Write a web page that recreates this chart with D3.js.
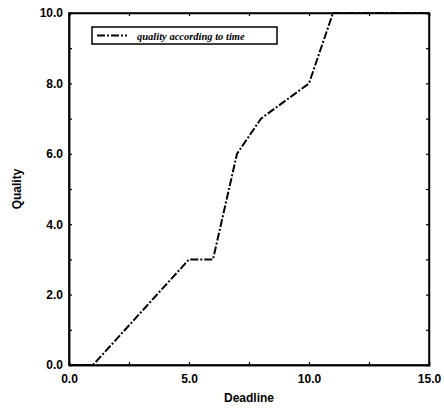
<!DOCTYPE html>
<html>
<head>
<meta charset="utf-8">
<script src="https://cdn.jsdelivr.net/npm/d3@7"></script>
<style>
  body { margin: 0; background: #fff; }
  .tick text { font-family: "Liberation Sans", Arial, sans-serif; font-weight: bold; font-size: 12px; fill: #000; }
</style>
</head>
<body>
<div id="chart"></div>
<script>
// data
var deadline = [0, 1, 5, 6, 7, 8, 10, 11, 15]
var quality = [0, 0, 3, 3, 6, 7, 8, 10, 10]
var xTicks = [0, 5, 10, 15]
var yTicks = [0, 2, 4, 6, 8, 10]
var seriesName = "quality according to time"

var width = 444
var height = 408
var margin = {top: 13, left: 69, right: 15, bottom: 43}

var svg = d3.select("#chart")
  .append("svg")
  .attr("width", width)
  .attr("height", height)

var w = width - margin.left - margin.right
var h = height - margin.top - margin.bottom

var g = svg.append("g")
  .attr("transform", "translate(" + margin.left + "," + margin.top + ")")

var x = d3.scaleLinear().domain([0, 15]).range([0, w])
var y = d3.scaleLinear().domain([0, 10]).range([h, 0])

//Minor ticks, pointing inward on all four sides
var xMinor = d3.range(0, 15.01, 2.5)
var yMinor = d3.range(0, 10.01, 1)

g.append("g").attr("transform", "translate(0," + h + ")")
  .call(d3.axisTop(x).tickValues(xMinor).tickSize(3).tickFormat(""))
g.append("g")
  .call(d3.axisBottom(x).tickValues(xMinor).tickSize(3).tickFormat(""))
g.append("g")
  .call(d3.axisRight(y).tickValues(yMinor).tickSize(3).tickFormat(""))
g.append("g").attr("transform", "translate(" + w + ",0)")
  .call(d3.axisLeft(y).tickValues(yMinor).tickSize(3).tickFormat(""))

//Labelled axes
g.append("g").attr("transform", "translate(0," + h + ")")
  .call(d3.axisBottom(x).tickValues(xTicks).tickSize(0).tickPadding(9).tickFormat(d3.format(".1f")))
g.append("g")
  .call(d3.axisLeft(y).tickValues(yTicks).tickSize(0).tickPadding(6).tickFormat(d3.format(".1f")))

g.selectAll(".domain").attr("stroke", "#000").attr("stroke-width", 1.5)
g.selectAll(".tick line").attr("stroke", "#000").attr("stroke-width", 1.2)

//Frame
g.append("rect")
  .attr("width", w).attr("height", h)
  .attr("fill", "none").attr("stroke", "#000").attr("stroke-width", 1.5)

//The line
var line = d3.line()
  .x(function(d, i) { return x(deadline[i]) })
  .y(function(d, i) { return y(quality[i]) })

g.append("path")
  .datum(quality)
  .attr("d", line)
  .attr("fill", "none")
  .attr("stroke", "#000")
  .attr("stroke-width", 2)
  .attr("stroke-dasharray", "8,2,2,2")

//Legend
var leg = g.append("g").attr("transform", "translate(23,14)")
leg.append("rect")
  .attr("width", 185).attr("height", 17)
  .attr("fill", "#fff").attr("stroke", "#000").attr("stroke-width", 1.5)
leg.append("line")
  .attr("x1", 5).attr("x2", 35).attr("y1", 8.5).attr("y2", 8.5)
  .attr("stroke", "#000").attr("stroke-width", 2)
  .attr("stroke-dasharray", "8,2,2,2")
leg.append("text")
  .attr("x", 45).attr("y", 12.5)
  .attr("fill", "#000")
  .style("font-family", "'Liberation Serif', serif")
  .style("font-style", "italic")
  .style("font-weight", "bold")
  .style("font-size", "10.5px")
  .text(seriesName)

//Axis titles
svg.append("text")
  .attr("x", margin.left + x(7.5)).attr("y", 402)
  .attr("text-anchor", "middle")
  .attr("fill", "#000")
  .style("font-family", "'Liberation Sans', Arial, sans-serif")
  .style("font-weight", "bold")
  .style("font-size", "12px")
  .text("Deadline")

svg.append("text")
  .attr("transform", "translate(21," + (margin.top + y(5)) + ") rotate(-90)")
  .attr("text-anchor", "middle")
  .attr("fill", "#000")
  .style("font-family", "'Liberation Sans', Arial, sans-serif")
  .style("font-weight", "bold")
  .style("font-size", "12px")
  .text("Quality")
</script>
</body>
</html>
